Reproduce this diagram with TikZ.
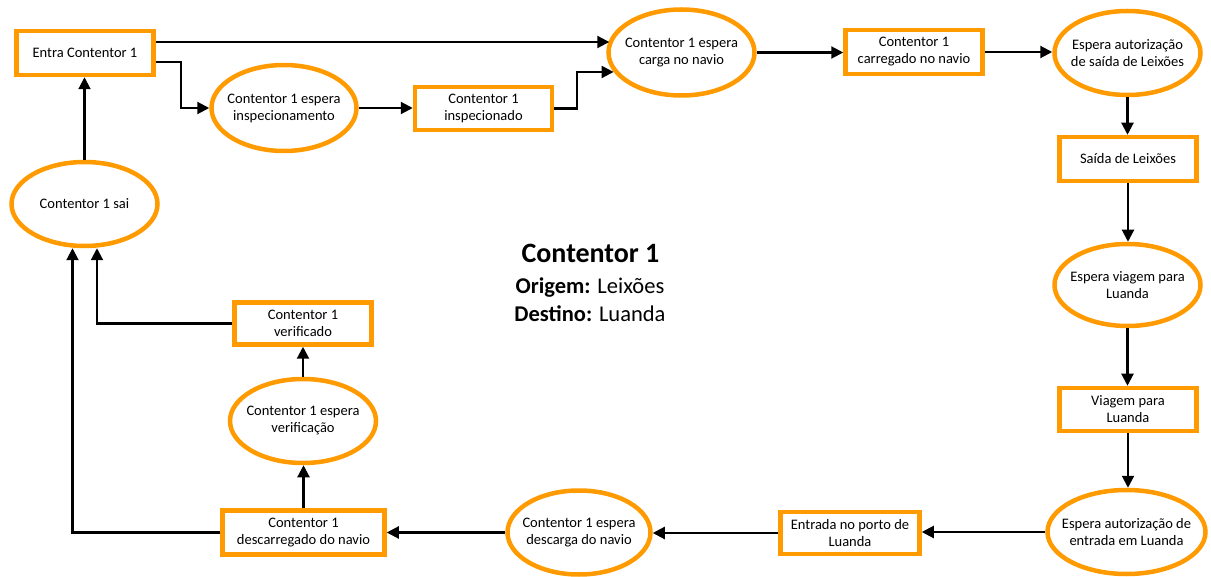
\documentclass[tikz,border=0pt]{standalone}
\usepackage{fontspec}
\setmainfont{Carlito}
\usetikzlibrary{shapes.geometric,arrows.meta}
\definecolor{orng}{RGB}{255,155,0}
\begin{document}
\begin{tikzpicture}[x=1pt,y=-1pt,
  nodefont/.style={font=\fontsize{14.5}{17}\selectfont},
  stepbox/.style={draw=orng, line width=4.5pt, rectangle, nodefont, align=center,
    inner sep=0pt, minimum width=137pt, minimum height=43pt, fill=white},
  stateell/.style={draw=orng, line width=4.5pt, ellipse, nodefont, align=center,
    inner xsep=-14pt, inner ysep=0pt, minimum width=146pt, minimum height=84pt, fill=white},
  arr/.style={draw=black, line width=2.1pt, -{Triangle[length=12pt,width=12pt]}}]
\useasboundingbox (0,0) rectangle (1211,577);

% top row
\node[stepbox, minimum height=44pt] (entra) at (85,53) {Entra Contentor 1};
\node[stateell, minimum width=145pt, minimum height=86pt] (insp) at (284,108) {Contentor 1 espera\\inspecionamento};
\node[stepbox] (inspd) at (483.5,108.5) {Contentor 1\\inspecionado};
\node[stateell, minimum height=86pt] (carga) at (681.5,52.5) {Contentor 1 espera\\carga no navio};
\node[stepbox, minimum height=44pt] (carr) at (914,52) {Contentor 1\\carregado no navio};
\node[stateell] (saiaut) at (1127.5,53) {Espera autorização\\de saída de Leixões};

% right column
\node[stepbox, minimum height=44pt] (saida) at (1128,159) {Saída de Leixões};
\node[stateell, minimum height=82pt] (espviag) at (1127.5,285) {Espera viagem para\\Luanda};
\node[stepbox] (viag) at (1128,409.5) {Viagem para\\Luanda};
\node[stateell, minimum width=158pt] (entaut) at (1126.5,532) {Espera autorização de\\entrada em Luanda};

% bottom row
\node[stepbox, minimum width=139pt, minimum height=42pt] (porto) at (850,533) {Entrada no porto de\\Luanda};
\node[stateell, minimum width=143pt] (descarga) at (579,532.5) {Contentor 1 espera\\descarga do navio};
\node[stepbox, minimum width=162pt, minimum height=44pt] (descarr) at (303.5,532.5) {Contentor 1\\descarregado do navio};

% left column
\node[stateell] (espverif) at (303,421) {Contentor 1 espera\\verificação};
\node[stepbox, minimum height=42pt] (verif) at (303,323.5) {Contentor 1\\verificado};
\node[stateell, minimum height=84pt] (sai) at (84.5,204) {Contentor 1 sai};

% caption in the middle
\node[anchor=base, font=\fontsize{28}{30}\selectfont\bfseries] (titulo) at (590.5,263) {Contentor 1};
\node[anchor=base, font=\fontsize{22.5}{26}\selectfont] (origem) at (590,294) {\textbf{Origem:} Leixões};
\node[anchor=base, font=\fontsize{22.5}{26}\selectfont] (destino) at (590,322) {\textbf{Destino:} Luanda};

% connectors
\draw[arr] ([yshift=11pt]entra.east) coordinate (e1) -- (e1 -| carga.170);
\draw[arr] ([yshift=-9pt]entra.east) -- ++(25,0) |- (insp.west);
\draw[arr] (insp.east) -- (insp.east -| inspd.west);
\draw[arr] (inspd.east) -- ++(23,0) |- (carga.196);
\draw[arr] (carga.east) -- (carga.east -| carr.west);
\draw[arr] (carr.east) -- (carr.east -| saiaut.west);
\draw[arr] (saiaut.south) -- (saiaut.south |- saida.north);
\draw[arr] (saida.south) -- (saida.south |- espviag.north);
\draw[arr] (espviag.south) -- (espviag.south |- viag.north);
\draw[arr] (viag.south) -- (viag.south |- entaut.north);
\draw[arr] (entaut.west) -- (entaut.west -| porto.east);
\draw[arr] (porto.west) -- (porto.west -| descarga.east);
\draw[arr] (descarga.west) -- (descarga.west -| descarr.east);
\draw[arr] (descarr.north) -- (descarr.north |- espverif.south);
\draw[arr] (espverif.north) -- (espverif.north |- verif.south);
\draw[arr] (verif.west) -| ([xshift=12.5pt]sai.south);
\draw[arr] (descarr.west) -| ([xshift=-12pt]sai.south);
\draw[arr] (sai.north) -- (sai.north |- entra.south);
\end{tikzpicture}
\end{document}
